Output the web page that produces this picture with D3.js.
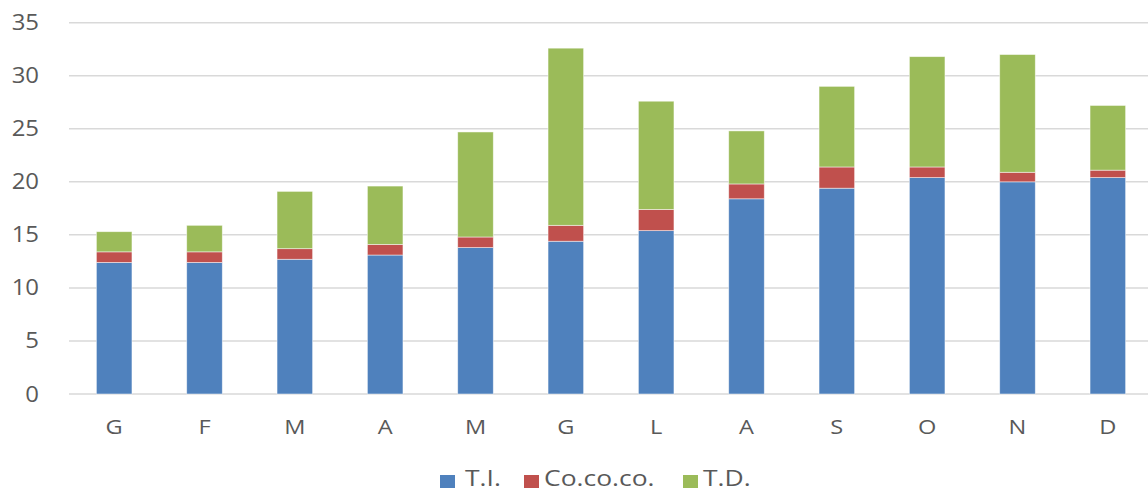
<!DOCTYPE html>
<html>
<head>
<meta charset="utf-8">
<script src="https://cdn.jsdelivr.net/npm/d3@7"></script>
<style>
  html, body { margin: 0; padding: 0; background: #fff; }
  svg { display: block; }
  text { font-family: "Open Sans", "Liberation Sans", sans-serif; fill: #595959; }
</style>
</head>
<body>
<svg id="chart" width="1148" height="491"></svg>
<script>
// Monthly categories (Italian initials)
const months = ["G", "F", "M", "A", "M", "G", "L", "A", "S", "O", "N", "D"];
// Stacked series values
const seriesNames = ["T.I.", "Co.co.co.", "T.D."];
const ti     = [12.4, 12.4, 12.7, 13.1, 13.8, 14.4, 15.4, 18.4, 19.4, 20.4, 20.0, 20.4];
const cococo = [1.0, 1.0, 1.0, 1.0, 1.0, 1.5, 2.0, 1.4, 2.0, 1.0, 0.9, 0.7];
const td     = [1.9, 2.5, 5.4, 5.5, 9.9, 16.7, 10.2, 5.0, 7.6, 10.4, 11.1, 6.1];
const yTicks = [0, 5, 10, 15, 20, 25, 30, 35];
const colors = ["#4F81BD", "#C0504D", "#9BBB59"];

const rows = months.map((m, i) => ({ idx: i, month: m, "T.I.": ti[i], "Co.co.co.": cococo[i], "T.D.": td[i] }));

const svg = d3.select("#chart");
const margin = { left: 69, right: -5, top: 22.7, bottom: 97 };
const W = 1148, H = 491;

const x = d3.scaleBand()
  .domain(rows.map(d => d.idx))
  .range([margin.left, W - margin.right])
  .paddingInner(0.606)
  .paddingOuter(0.303);

const y = d3.scaleLinear()
  .domain([0, 35])
  .range([H - margin.bottom, margin.top]);

// Horizontal gridlines
svg.append("g")
  .selectAll("line")
  .data(yTicks)
  .join("line")
  .attr("x1", margin.left)
  .attr("x2", W)
  .attr("y1", d => y(d))
  .attr("y2", d => y(d))
  .attr("stroke", "#d9d9d9")
  .attr("stroke-width", 1.5);

// Y-axis labels (slightly widened glyphs)
svg.append("g")
  .selectAll("text")
  .data(yTicks)
  .join("text")
  .attr("text-anchor", "end")
  .attr("font-size", 21)
  .attr("transform", d => `translate(39,${y(d) + 7.5}) scale(1.14,1)`)
  .text(d => d);

// Stacked bars
const stack = d3.stack().keys(seriesNames);
const layers = stack(rows);

svg.append("g")
  .selectAll("g")
  .data(layers)
  .join("g")
  .attr("fill", (d, i) => colors[i])
  .selectAll("rect")
  .data(d => d)
  .join("rect")
  .attr("x", d => x(d.data.idx))
  .attr("width", x.bandwidth())
  .attr("y", d => y(d[1]))
  .attr("height", d => y(d[0]) - y(d[1]))
  .attr("stroke", "#ffffff")
  .attr("stroke-opacity", 0.6)
  .attr("stroke-width", 0.8);

// X-axis labels
svg.append("g")
  .selectAll("text")
  .data(rows)
  .join("text")
  .attr("text-anchor", "middle")
  .attr("font-size", 20)
  .attr("transform", d => `translate(${x(d.idx) + x.bandwidth() / 2},${y(0) + 40}) scale(1.18,1)`)
  .text(d => d.month);

// Legend
const legendItems = [
  { name: seriesNames[0], color: colors[0], sx: 440, tx: 465 },
  { name: seriesNames[1], color: colors[1], sx: 524, tx: 544 },
  { name: seriesNames[2], color: colors[2], sx: 683, tx: 703 }
];
const lg = svg.append("g");
lg.selectAll("rect").data(legendItems).join("rect")
  .attr("x", d => d.sx)
  .attr("y", 475)
  .attr("width", 15)
  .attr("height", 13)
  .attr("fill", d => d.color);
lg.selectAll("text").data(legendItems).join("text")
  .attr("font-size", 21)
  .attr("transform", d => `translate(${d.tx},486) scale(1.26,1)`)
  .text(d => d.name);
</script>
</body>
</html>
